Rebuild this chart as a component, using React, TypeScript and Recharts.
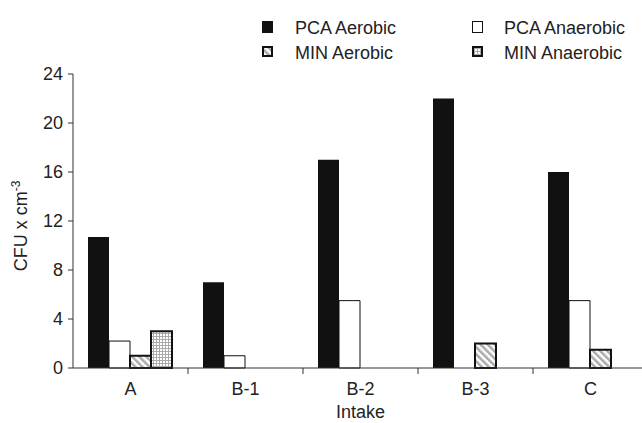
import { BarChart, Bar, XAxis, YAxis } from "recharts";

const categories = ["A", "B-1", "B-2", "B-3", "C"];
const pcaAerobic = [10.7, 7, 17, 22, 16];
const pcaAnaerobic = [2.2, 1, 5.5, 0, 5.5];
const minAerobic = [1, 0, 0, 2, 1.5];
const minAnaerobic = [3, 0, 0, 0, 0];
const yTicks = [0, 4, 8, 12, 16, 20, 24];

const data = categories.map((name, i) => ({
  name,
  pcaAer: pcaAerobic[i],
  pcaAna: pcaAnaerobic[i],
  minAer: minAerobic[i],
  minAna: minAnaerobic[i],
}));

// series look, same order as the legend
const series = [
  { key: "pcaAer", name: "PCA Aerobic", fill: "#111", stroke: "#111", sw: 0 },
  { key: "pcaAna", name: "PCA Anaerobic", fill: "#fff", stroke: "#111", sw: 1 },
  { key: "minAer", name: "MIN Aerobic", fill: "url(#hatch)", stroke: "#111", sw: 2 },
  { key: "minAna", name: "MIN Anaerobic", fill: "url(#grid)", stroke: "#111", sw: 2 },
];

const W = 648;
const H = 423;
const margin = { top: 74, right: 0, bottom: 25, left: 0 };
const Y_W = 73;
const X_H = 30;
const AXIS_Y = H - margin.bottom - X_H;
const BAND = (W - Y_W - margin.left - margin.right) / categories.length;
const FONT = "'Liberation Sans', Arial, sans-serif";

const Patterns = ({ suffix = "" }: { suffix?: string }) => (
  <defs>
    <pattern
      id={"hatch" + suffix}
      patternUnits="userSpaceOnUse"
      width={5}
      height={5}
      patternTransform="rotate(-45)"
    >
      <rect width={5} height={5} fill="#fff" />
      <rect width={2.5} height={5} fill="#aaa" />
    </pattern>
    <pattern id={"grid" + suffix} patternUnits="userSpaceOnUse" width={3} height={3}>
      <rect width={3} height={3} fill="#fff" />
      <rect width={3} height={1} fill="#aaa" />
      <rect width={1} height={3} fill="#aaa" />
    </pattern>
  </defs>
);

const XTick = (props: any) => {
  const { x, payload, index } = props;
  const bx = x - BAND / 2;
  return (
    <g>
      {index > 0 && <line x1={bx} x2={bx} y1={AXIS_Y} y2={AXIS_Y + 6} stroke="#333" />}
      <text x={x} y={AXIS_Y + 27} textAnchor="middle" fontSize={18} fill="#222">
        {payload.value}
      </text>
    </g>
  );
};

const YLabel = () => {
  const cx = 27;
  const cy = 226;
  return (
    <text
      x={cx}
      y={cy}
      transform={`rotate(-90, ${cx}, ${cy})`}
      textAnchor="middle"
      fontSize={18}
      fill="#222"
    >
      CFU x cm
      <tspan fontSize={12} dy={-7}>
        -3
      </tspan>
    </text>
  );
};

const legendPos = [
  { ix: 262, tx: 295, y: 21 },
  { ix: 472, tx: 504, y: 21 },
  { ix: 262, tx: 295, y: 46 },
  { ix: 472, tx: 504, y: 46 },
];

const LegendOverlay = () => (
  <svg width={W} height={70} style={{ position: "absolute", left: 0, top: 0 }}>
    <Patterns suffix="L" />
    {series.map((s, i) => {
      const p = legendPos[i];
      const fill = s.fill.replace(")", "L)");
      return (
        <g key={s.key}>
          {s.sw === 2 ? (
            <rect x={p.ix + 1} y={p.y + 1} width={9} height={9} fill={fill} stroke="#111" strokeWidth={2} />
          ) : (
            <rect
              x={p.ix + 0.5}
              y={p.y + 0.5}
              width={10}
              height={11}
              fill={fill}
              stroke="#111"
              strokeWidth={1}
            />
          )}
          <text x={p.tx} y={p.y + 13} fontSize={18} fill="#222" fontFamily={FONT}>
            {s.name}
          </text>
        </g>
      );
    })}
  </svg>
);

export default function App() {
  return (
    <div
      style={{
        position: "absolute",
        left: 0,
        top: 0,
        width: 642,
        height: H,
        overflow: "hidden",
        background: "#fff",
        fontFamily: FONT,
      }}
    >
      <BarChart
        width={W}
        height={H}
        data={data}
        margin={margin}
        barCategoryGap={15}
        barGap={0}
        style={{ fontFamily: FONT }}
      >
        <Patterns />
        <XAxis
          dataKey="name"
          height={X_H}
          axisLine={{ stroke: "#333" }}
          tickLine={false}
          tick={<XTick />}
          interval={0}
          label={{ value: "Intake", position: "bottom", offset: 7, fontSize: 18, fill: "#222" }}
        />
        <YAxis
          width={Y_W}
          domain={[0, 24]}
          ticks={yTicks}
          axisLine={{ stroke: "#333" }}
          tickLine={{ stroke: "#333" }}
          tickSize={5}
          tickMargin={5}
          tick={{ fontSize: 18, fill: "#222" }}
          label={{ content: () => <YLabel /> }}
        />
        {series.map((s) => (
          <Bar
            key={s.key}
            dataKey={s.key}
            name={s.name}
            fill={s.fill}
            stroke={s.stroke}
            strokeWidth={s.sw}
            isAnimationActive={false}
          />
        ))}
      </BarChart>
      <LegendOverlay />
    </div>
  );
}
